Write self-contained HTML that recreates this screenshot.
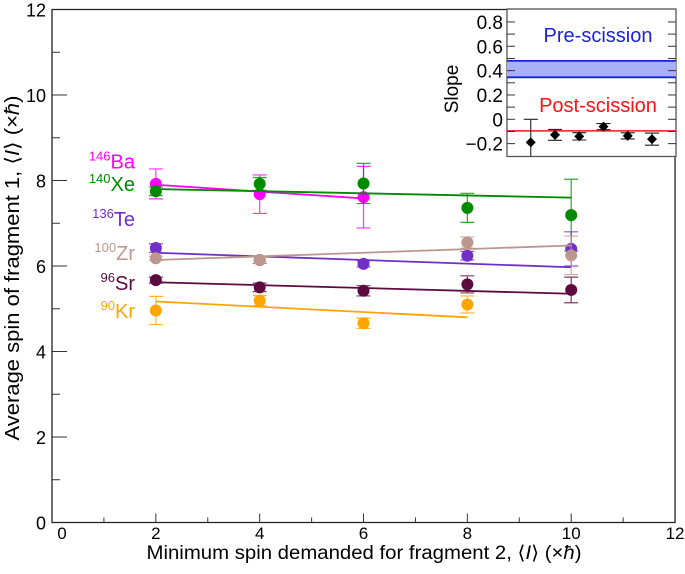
<!DOCTYPE html>
<html><head><meta charset="utf-8"><style>
body{margin:0;background:#fff}
svg{display:block;font-family:"Liberation Sans",sans-serif}
</style></head><body>
<svg id="chart" width="685" height="574" viewBox="0 0 685 574">
<g id="main-axes"></g>
<g id="series"></g>
<g id="inset"></g>
<text x="364" y="559" text-anchor="middle" font-size="19" textLength="435" lengthAdjust="spacingAndGlyphs">Minimum spin demanded for fragment 2, ⟨<tspan font-style="italic">I</tspan>⟩ (×<tspan font-style="italic">ħ</tspan>)</text>
<text transform="translate(19,268) rotate(-90)" text-anchor="middle" font-size="20" textLength="345" lengthAdjust="spacingAndGlyphs">Average spin of fragment 1, ⟨<tspan font-style="italic">I</tspan>⟩ (×<tspan font-style="italic">ħ</tspan>)</text>
</svg>
<script>
const xVals=[2,4,6,8,10];
const names=["Ba","Xe","Te","Zr","Sr","Kr"];
const masses=["146","140","136","100","96","90"];
const colors=["#ff00ff","#008a00","#7030c8","#bc9790","#5c0a40","#ffa500"];
const baY=[7.92,7.68,7.61,null,null];
const baE=[0.35,0.45,0.72,null,null];
const xeY=[7.75,7.92,7.93,7.36,7.19];
const xeE=[0.1,0.15,0.47,0.34,0.84];
const teY=[6.42,6.14,6.05,6.24,6.40];
const teE=[0.1,0.08,0.07,0.1,0.4];
const zrY=[6.18,6.14,null,6.55,6.25];
const zrE=[0.05,0.08,null,0.13,0.45];
const srY=[5.67,5.50,5.42,5.57,5.44];
const srE=[0.07,0.1,0.12,0.2,0.3];
const krY=[4.96,5.19,4.66,5.10,null];
const krE=[0.33,0.12,0.12,0.2,null];
const fitStart=[7.90,7.80,6.31,6.14,5.62,5.17];
const fitEnd=[7.58,7.60,5.97,6.48,5.35,4.80];
const fitEndX=[6,10,10,10,10,8];
const labelY=[8.45,7.92,7.1,6.3,5.6,4.95];
const xTicks=[0,2,4,6,8,10,12];
const yTicks=[0,2,4,6,8,10,12];
const slopeX=[1,2,3,4,5,6];
const slopeY=[-0.19,-0.128,-0.14,-0.06,-0.136,-0.163];
const slopeE=[0.19,0.045,0.03,0.025,0.025,0.05];
const preLo=0.345, preHi=0.48, postVal=-0.095;
const insetTicks=[-0.2,0,0.2,0.4,0.6,0.8];

const NS="http://www.w3.org/2000/svg";
function mk(p,t,a){const e=document.createElementNS(NS,t);for(const k in a)e.setAttribute(k,a[k]);p.appendChild(e);return e;}
const X=v=>52+v*51.92, Y=v=>522.5-v*42.75;
const ax=document.getElementById('main-axes');
let f=mk(ax,'path',{d:`M${X(0)} ${Y(12)}V${Y(0)}H${X(12)}V${Y(12)}Z`,fill:'none',stroke:'#222','stroke-width':1.3});


for(let v=1;v<12;v++){const maj=v%2==0;
 mk(ax,'line',{x1:X(v),x2:X(v),y1:Y(0),y2:Y(0)-(maj?9:5),stroke:'#333','stroke-width':1});
 mk(ax,'line',{x1:X(0),x2:X(0)+(maj?15:8),y1:Y(v),y2:Y(v),stroke:'#333','stroke-width':1});}
xTicks.forEach(v=>{const t=mk(ax,'text',{x:X(v)+(v==0?10:0),y:539,'text-anchor':'middle','font-size':17});t.textContent=v;
 
 });
yTicks.forEach(v=>{const t=mk(ax,'text',{x:46,y:Y(v)+7,'text-anchor':'end','font-size':18});t.textContent=v;
 
 });

const sg=document.getElementById('series');
const allY=[baY,xeY,teY,zrY,srY,krY], allE=[baE,xeE,teE,zrE,srE,krE];
[0,1,2,3,4,5].forEach(i=>{const g=mk(sg,'g',{});
 
 
 const c=colors[i];
 const fl=mk(g,'line',{x1:X(2),y1:Y(fitStart[i]),x2:X(fitEndX[i]),y2:Y(fitEnd[i]),stroke:c,'stroke-width':1.8});
 
 
 xVals.forEach((x,j)=>{const y=allY[i][j];if(y==null)return;const e=allE[i][j];
  mk(g,'path',{d:`M${X(x)} ${Y(y-e)}V${Y(y+e)}M${X(x)-7} ${Y(y-e)}h14M${X(x)-7} ${Y(y+e)}h14`,stroke:c,'stroke-width':1.2,fill:'none',opacity:0.8});
  const p=mk(g,'circle',{cx:X(x),cy:Y(y),r:6,fill:c});
  
  });
 const t=mk(g,'text',{x:135,y:Y(labelY[i])+7,'text-anchor':'end','font-size':20,fill:c});
 
 
 const s=mk(t,'tspan',{'font-size':13,dy:-8});s.textContent=masses[i];
 const n=mk(t,'tspan',{dy:8});n.textContent=names[i];
});

const ig=document.getElementById('inset');
const L=507,R=676,T=9,B=156.5;
const IY=v=>119.3-v*121.7;
const bg=mk(ig,'rect',{x:L,y:T,width:R-L,height:B-T,fill:'#fff',stroke:'#555','stroke-width':1.3});


const band=mk(ig,'rect',{x:L,y:IY(preHi),width:R-L,height:IY(preLo)-IY(preHi),fill:'#aab0f5'});


mk(ig,'line',{x1:L,x2:R,y1:IY(preHi),y2:IY(preHi),stroke:'#1a22e0','stroke-width':1.8});
mk(ig,'line',{x1:L,x2:R,y1:IY(preLo),y2:IY(preLo),stroke:'#1a22e0','stroke-width':1.8});
const pl=mk(ig,'line',{x1:L,x2:R,y1:IY(postVal),y2:IY(postVal),stroke:'#ff1010','stroke-width':1.5});


for(let k=-2;k<=8;k++){const v=k/10;const y=IY(v);if(y<T+2||y>B-2)continue;
 mk(ig,'line',{x1:L,x2:L+8,y1:y,y2:y,stroke:'#333'});
 mk(ig,'line',{x1:R-8,x2:R,y1:y,y2:y,stroke:'#333'});}
insetTicks.forEach(v=>{const t=mk(ig,'text',{x:503,y:IY(v)+7,'text-anchor':'end','font-size':19});t.textContent=v<0?'−'+Math.abs(v).toFixed(1):(v==0?'0':v.toFixed(1));
 
 });
const SX=i=>506.5+i*24.25;
slopeX.forEach((s,j)=>{const y=slopeY[j],e=slopeE[j];
 mk(ig,'path',{d:`M${SX(s)} ${IY(y+e)}V${Math.min(IY(y-e),B)}M${SX(s)-7} ${IY(y+e)}h14`+(IY(y-e)<B?`M${SX(s)-7} ${IY(y-e)}h14`:''),stroke:'#222','stroke-width':1.1,fill:'none'});
 const d=mk(ig,'path',{d:`M${SX(s)} ${IY(y)-5}l5 5l-5 5l-5 -5Z`,fill:'#000'});
 
 });
let t=mk(ig,'text',{x:598,y:42,'text-anchor':'middle','font-size':20,fill:'#1a22e0'});t.textContent='Pre-scission';


t=mk(ig,'text',{x:598,y:112,'text-anchor':'middle','font-size':20,fill:'#ff1010'});t.textContent='Post-scission';


t=mk(ig,'text',{transform:'translate(458,89) rotate(-90)','text-anchor':'middle','font-size':19});t.textContent='Slope';


</script>
</body></html>
